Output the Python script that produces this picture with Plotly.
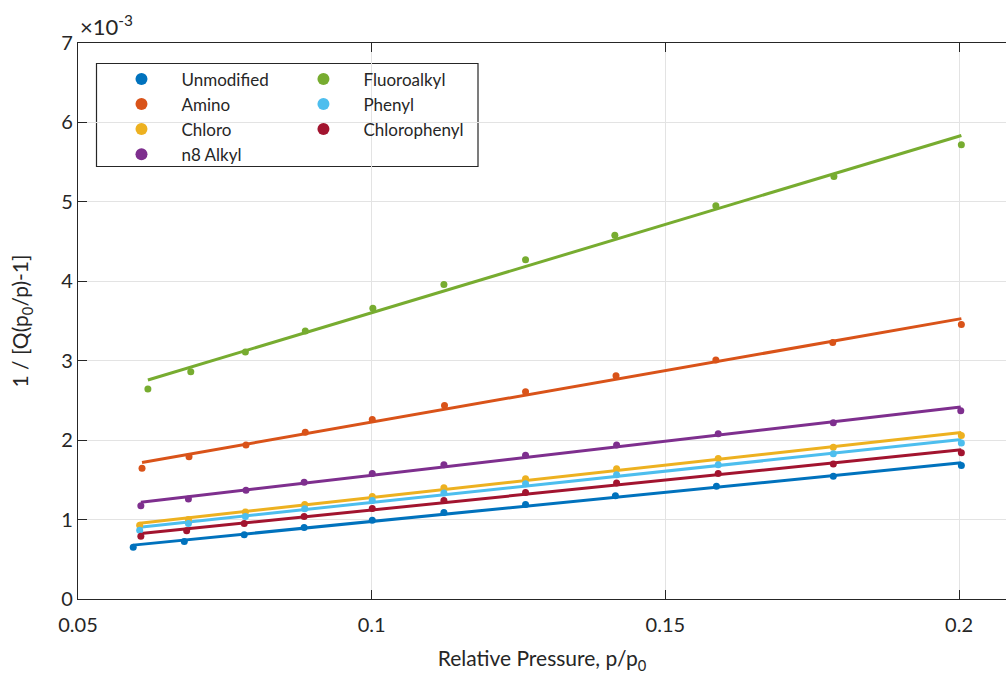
import numpy as np
import plotly.graph_objects as go

# BET linear region: relative pressure vs 1/[Q(p0/p)-1]  (values in units of 1e-3)
names = ["Unmodified", "Amino", "Chloro", "n8 Alkyl", "Fluoroalkyl", "Phenyl", "Chlorophenyl"]
colors = ["#0072BD", "#D95319", "#EDB120", "#7E2F8E", "#77AC30", "#4DBEEE", "#A2142F"]

x_unmodified = [0.0594, 0.0681, 0.0783, 0.0885, 0.1001, 0.1123, 0.1262, 0.1415, 0.1587, 0.1786, 0.2004]
y_unmodified = [0.65, 0.725, 0.81, 0.90, 0.99, 1.09, 1.19, 1.30, 1.42, 1.545, 1.68]

x_amino = [0.0609, 0.0689, 0.0786, 0.0887, 0.1001, 0.1124, 0.1262, 0.1416, 0.1586, 0.1785, 0.2004]
y_amino = [1.645, 1.79, 1.94, 2.10, 2.26, 2.435, 2.61, 2.81, 3.01, 3.23, 3.455]

x_chloro = [0.0605, 0.0688, 0.0785, 0.0886, 0.1001, 0.1123, 0.1262, 0.1417, 0.1590, 0.1786, 0.2004]
y_chloro = [0.93, 1.00, 1.095, 1.19, 1.29, 1.40, 1.515, 1.64, 1.77, 1.91, 2.06]

x_n8alkyl = [0.0607, 0.0688, 0.0786, 0.0885, 0.1001, 0.1123, 0.1262, 0.1417, 0.1590, 0.1786, 0.2003]
y_n8alkyl = [1.175, 1.26, 1.37, 1.47, 1.58, 1.69, 1.81, 1.94, 2.08, 2.22, 2.37]

x_fluoro = [0.0619, 0.0692, 0.0785, 0.0887, 0.1002, 0.1123, 0.1262, 0.1414, 0.1586, 0.1787, 0.2004]
y_fluoro = [2.645, 2.86, 3.11, 3.375, 3.66, 3.96, 4.27, 4.58, 4.95, 5.32, 5.72]

x_phenyl = [0.0605, 0.0688, 0.0785, 0.0886, 0.1001, 0.1123, 0.1262, 0.1417, 0.1590, 0.1786, 0.2004]
y_phenyl = [0.865, 0.95, 1.04, 1.135, 1.24, 1.335, 1.45, 1.565, 1.69, 1.83, 1.965]

x_chlorophenyl = [0.0607, 0.0685, 0.0783, 0.0885, 0.1001, 0.1123, 0.1262, 0.1417, 0.1590, 0.1786, 0.2004]
y_chlorophenyl = [0.79, 0.86, 0.95, 1.04, 1.14, 1.24, 1.34, 1.46, 1.58, 1.70, 1.84]

xs = [x_unmodified, x_amino, x_chloro, x_n8alkyl, x_fluoro, x_phenyl, x_chlorophenyl]
ys = [y_unmodified, y_amino, y_chloro, y_n8alkyl, y_fluoro, y_phenyl, y_chlorophenyl]

x_ticks = [0.05, 0.1, 0.15, 0.2]
x_ticktext = ["0.05", "0.1", "0.15", "0.2"]
y_ticks = [0, 1, 2, 3, 4, 5, 6, 7]

FONT = "Lato, 'Open Sans', sans-serif"
AX = "#262626"
GRID = "#e3e3e3"

fig = go.Figure()

# least-squares fit lines, drawn first so the points sit on top
for name, c, x, y in zip(names, colors, xs, ys):
    slope, icpt = np.polyfit(np.array(x), np.array(y), 1)
    xf = np.array([x[0], x[-1]])
    fig.add_trace(go.Scatter(x=xf, y=slope * xf + icpt, mode="lines",
                             line=dict(color=c, width=3), showlegend=False,
                             hoverinfo="skip"))

for i, (name, c, x, y) in enumerate(zip(names, colors, xs, ys)):
    fig.add_trace(go.Scatter(x=x, y=y, mode="markers", name=name,
                             marker=dict(color=c, size=7),
                             legend="legend" if i < 4 else "legend2"))

legend_common = dict(bgcolor="rgba(0,0,0,0)", borderwidth=0,
                     font=dict(family=FONT, size=17, color="#262626"),
                     itemsizing="constant", itemwidth=70,
                     xanchor="left", yanchor="top", tracegroupgap=0)

fig.update_layout(
    width=1006, height=675,
    margin=dict(l=78, r=0, t=43, b=76),
    paper_bgcolor="white", plot_bgcolor="white",
    font=dict(family=FONT, size=20, color=AX),
    showlegend=True,
    legend=dict(x=0.0253, y=0.967, **legend_common),
    legend2=dict(x=0.2214, y=0.967, **legend_common),
    xaxis=dict(range=[0.05, 0.208], tickvals=x_ticks, ticktext=x_ticktext,
               showline=True, linecolor=AX, linewidth=1.3, mirror="ticks",
               ticks="inside", ticklen=9, tickcolor=AX, tickwidth=1.3,
               ticklabelstandoff=8,
               showgrid=True, gridcolor=GRID, gridwidth=1, zeroline=False,
               tickfont=dict(family=FONT, size=20, color=AX),
               title=dict(text="Relative Pressure, p/p<sub>0</sub>", standoff=16,
                          font=dict(family=FONT, size=21, color=AX))),
    yaxis=dict(range=[0, 7], tickvals=y_ticks,
               showline=True, linecolor=AX, linewidth=1.3,
               ticks="inside", ticklen=9, tickcolor=AX, tickwidth=1.3,
               showgrid=True, gridcolor=GRID, gridwidth=1, zeroline=False,
               tickfont=dict(family=FONT, size=20, color=AX),
               title=dict(text="1 / [Q(p<sub>0</sub>/p)-1]", standoff=26,
                          font=dict(family=FONT, size=21, color=AX))),
)

# legend frame
fig.add_shape(type="rect", xref="paper", yref="paper",
              x0=(96.5 - 78) / 928, x1=(478 - 78) / 928,
              y0=(599 - 166.5) / 556, y1=(599 - 63.5) / 556,
              line=dict(color=AX, width=1.2), fillcolor="white", layer="below")

# axis exponent
fig.add_annotation(x=0, y=1, xref="paper", yref="paper", xanchor="left", yanchor="bottom",
                   text="×10<sup>-3</sup>", showarrow=False, xshift=0, yshift=1,
                   font=dict(family=FONT, size=22, color=AX))

fig.write_html("out.html")
